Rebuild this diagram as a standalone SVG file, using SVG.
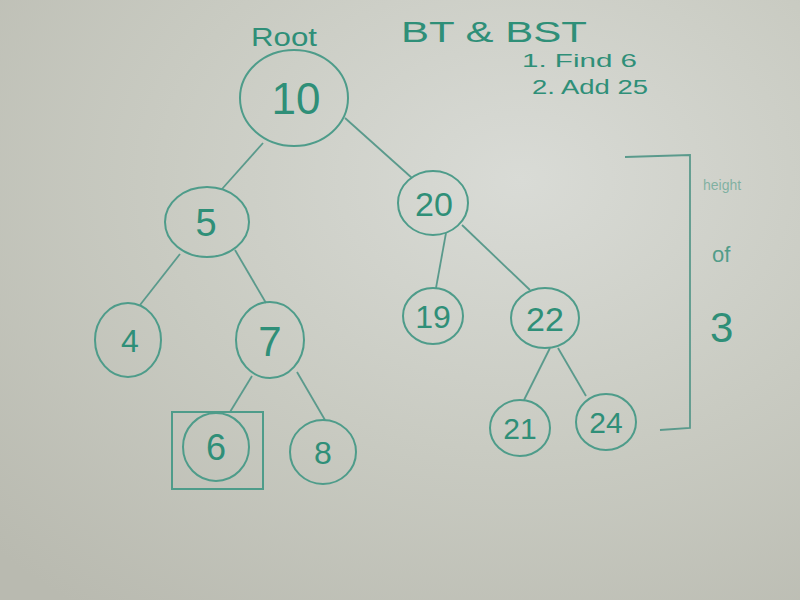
<svg xmlns="http://www.w3.org/2000/svg" width="800" height="600" viewBox="0 0 800 600">
<defs>
<radialGradient id="bg" cx="0.65" cy="0.3" r="0.9">
<stop offset="0" stop-color="#d9dbd6"/>
<stop offset="0.5" stop-color="#c9cbc2"/>
<stop offset="1" stop-color="#b9bab0"/>
</radialGradient>
<style>
.n{fill:none;stroke:#4e9c8a;stroke-width:2}
.e{stroke:#5a9a8c;stroke-width:1.8;fill:none}
.t{font-family:"Liberation Sans",sans-serif;fill:#2f8f78;text-anchor:middle}
.h{font-family:"Liberation Sans",sans-serif;fill:#2f8f78}
</style>
</defs>
<rect width="800" height="600" fill="url(#bg)"/>
<g id="connectors">
<line class="e" x1="263" y1="143" x2="222" y2="189"/>
<line class="e" x1="345" y1="118" x2="412" y2="178"/>
<line class="e" x1="180" y1="254" x2="140" y2="305"/>
<line class="e" x1="235" y1="250" x2="266" y2="303"/>
<line class="e" x1="446" y1="233" x2="436" y2="288"/>
<line class="e" x1="462" y1="225" x2="530" y2="290"/>
<line class="e" x1="550" y1="348" x2="524" y2="400"/>
<line class="e" x1="558" y1="348" x2="586" y2="396"/>
<line class="e" x1="252" y1="376" x2="230" y2="412"/>
<line class="e" x1="297" y1="372" x2="325" y2="420"/>
</g>
<g id="n10"><ellipse class="n" cx="294" cy="98" rx="54" ry="48" stroke="#6f8a84"/><text class="t" x="296" y="114" font-size="44">10</text></g>
<g id="n5"><ellipse class="n" cx="207" cy="222" rx="42" ry="35"/><text class="t" x="206" y="236" font-size="38">5</text></g>
<g id="n20"><ellipse class="n" cx="433" cy="203" rx="35" ry="32"/><text class="t" x="434" y="216" font-size="34">20</text></g>
<g id="n4"><ellipse class="n" cx="128" cy="340" rx="33" ry="37"/><text class="t" x="130" y="352" font-size="32">4</text></g>
<g id="n7"><ellipse class="n" cx="270" cy="340" rx="34" ry="38"/><text class="t" x="270" y="356" font-size="42">7</text></g>
<g id="n19"><ellipse class="n" cx="433" cy="316" rx="30" ry="28"/><text class="t" x="433" y="328" font-size="32">19</text></g>
<g id="n22"><ellipse class="n" cx="545" cy="318" rx="34" ry="30"/><text class="t" x="545" y="331" font-size="34">22</text></g>
<g id="n6"><rect x="172" y="412" width="91" height="77" fill="none" stroke="#4e9c8a" stroke-width="2"/><ellipse class="n" cx="216" cy="447" rx="33" ry="34"/><text class="t" x="216" y="460" font-size="36">6</text></g>
<g id="n8"><ellipse class="n" cx="323" cy="452" rx="33" ry="32"/><text class="t" x="323" y="464" font-size="32">8</text></g>
<g id="n21"><ellipse class="n" cx="520" cy="428" rx="30" ry="28"/><text class="t" x="520" y="439" font-size="30">21</text></g>
<g id="n24"><ellipse class="n" cx="606" cy="422" rx="30" ry="28"/><text class="t" x="606" y="433" font-size="30">24</text></g>
<g id="labels">
<text class="h" x="251" y="46" font-size="25" textLength="66" lengthAdjust="spacingAndGlyphs">Root</text>
<text class="h" x="401" y="42" font-size="30" textLength="186" lengthAdjust="spacingAndGlyphs">BT &amp; BST</text>
<text class="h" x="522" y="67" font-size="18" textLength="115" lengthAdjust="spacingAndGlyphs">1. Find 6</text>
<text class="h" x="532" y="94" font-size="20" textLength="116" lengthAdjust="spacingAndGlyphs">2. Add 25</text>
<polyline class="e" points="625,157 690,155 690,428 660,430"/>
<text class="h" x="703" y="190" font-size="14" fill-opacity="0.5">height</text>
<text class="h" x="712" y="262" font-size="22" fill-opacity="0.8">of</text>
<text class="h" x="710" y="342" font-size="42">3</text>
</g>
</svg>
